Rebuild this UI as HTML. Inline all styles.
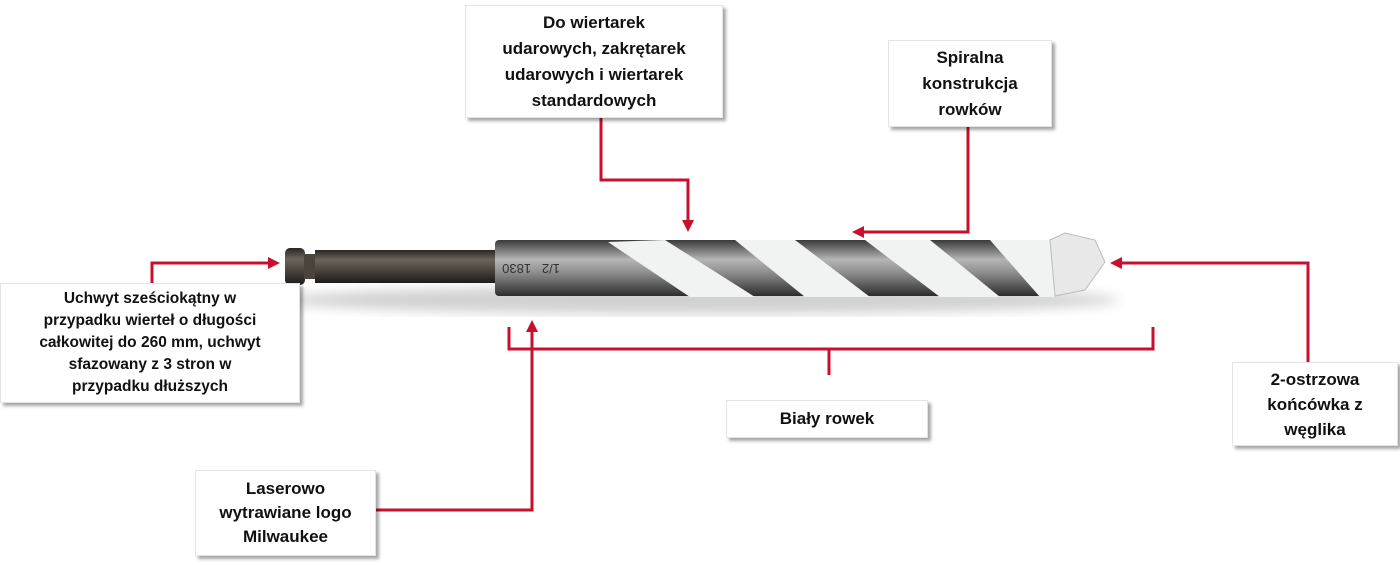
<!DOCTYPE html>
<html><head><style>
body{margin:0;width:1400px;height:565px;background:#fff;position:relative;overflow:hidden;font-family:"Liberation Sans",sans-serif}
.b{position:absolute;background:#fff;box-shadow:3px 3px 3px rgba(0,0,0,.35);border:1px solid #e4e4e4;font-weight:bold;color:#111;text-align:center;display:flex;align-items:center;justify-content:center;box-sizing:border-box}
svg{position:absolute;left:0;top:0}
</style></head><body>
<svg width="1400" height="565">
<defs>
<linearGradient id="sh" x1="0" y1="0" x2="0" y2="1"><stop offset="0" stop-color="#2a2622"/><stop offset=".3" stop-color="#6b645c"/><stop offset=".6" stop-color="#4b453f"/><stop offset="1" stop-color="#1e1b18"/></linearGradient>
<linearGradient id="bd" x1="0" y1="0" x2="0" y2="1"><stop offset="0" stop-color="#3a3a3a"/><stop offset=".35" stop-color="#b5b5b5"/><stop offset=".6" stop-color="#8a8a8a"/><stop offset="1" stop-color="#2d2d2d"/></linearGradient>
<filter id="bl"><feGaussianBlur stdDeviation="6"/></filter>
<clipPath id="cp"><rect x="600" y="240" width="455" height="57"/></clipPath>
</defs>
<ellipse cx="700" cy="300" rx="420" ry="14" fill="#000" opacity=".18" filter="url(#bl)"/>
<rect x="285" y="248" width="20" height="37" rx="5" fill="url(#sh)"/>
<rect x="304" y="254" width="12" height="25" fill="#4a443d"/>
<rect x="315" y="250" width="185" height="33" fill="url(#sh)"/>
<rect x="495" y="240" width="565" height="56" rx="4" fill="url(#bd)"/>
<text x="560" y="272" font-size="13" fill="#333" transform="rotate(180 560 268)" font-family="Liberation Sans">1/2 &#160; 1830</text>
<g clip-path="url(#cp)" fill="#f1f2f2">
<polygon points="608,242 665,240 755,297 690,297"/>
<polygon points="735,240 795,240 870,297 805,297"/>
<polygon points="865,240 930,240 1000,297 940,297"/>
<polygon points="990,240 1060,240 1060,297 1040,297"/>
</g>
<polygon points="1050,240 1065,233 1095,240 1105,262 1085,290 1055,296" fill="#e8e8e8" stroke="#bbb"/>
<g stroke="#c8102e" stroke-width="3" fill="none">
<polyline points="601,118 601,180 688,180 688,222"/>
<polyline points="968,127 968,232 862,232"/>
<polyline points="152,283 152,263 270,263"/>
<polyline points="1308,362 1308,263 1120,263"/>
<polyline points="509,327 509,349 1153,349 1153,327"/>
<line x1="829" y1="349" x2="829" y2="375"/>
<polyline points="376,510 532,510 532,330"/>
</g>
<g fill="#c8102e">
<polygon points="682,220 694,220 688,232"/>
<polygon points="864,226 864,238 852,232"/>
<polygon points="268,257 268,269 280,263"/>
<polygon points="1122,257 1122,269 1110,263"/>
<polygon points="526,332 538,332 532,320"/>
</g>
</svg>
<div class="b" style="left:465px;top:5px;width:258px;height:113px;font-size:17px;line-height:26px">Do wiertarek<br>udarowych, zakrętarek<br>udarowych i wiertarek<br>standardowych</div>
<div class="b" style="left:888px;top:40px;width:164px;height:87px;font-size:17px;line-height:26px">Spiralna<br>konstrukcja<br>rowków</div>
<div class="b" style="left:0;top:283px;width:300px;height:120px;font-size:15.5px;line-height:22px">Uchwyt sześciokątny w<br>przypadku wierteł o długości<br>całkowitej do 260 mm, uchwyt<br>sfazowany z 3 stron w<br>przypadku dłuższych</div>
<div class="b" style="left:726px;top:400px;width:202px;height:38px;font-size:17px">Biały rowek</div>
<div class="b" style="left:1232px;top:362px;width:166px;height:84px;font-size:17px;line-height:25px">2-ostrzowa<br>końcówka z<br>węglika</div>
<div class="b" style="left:195px;top:470px;width:181px;height:86px;font-size:17px;line-height:24px">Laserowo<br>wytrawiane logo<br>Milwaukee</div>
</body></html>
